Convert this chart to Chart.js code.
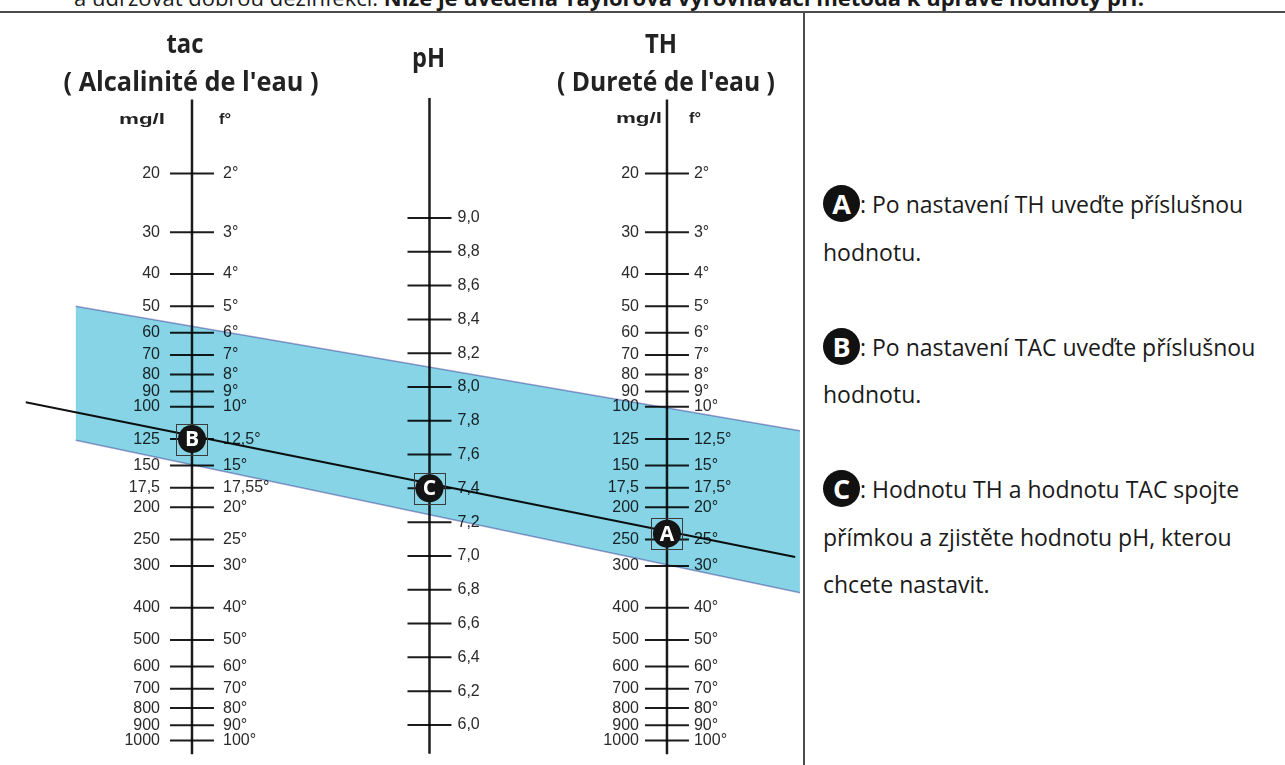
<!DOCTYPE html>
<html lang="cs">
<head>
<meta charset="utf-8">
<title>tac - pH - TH</title>
<script src="https://cdn.jsdelivr.net/npm/chart.js@4.4.1/dist/chart.umd.min.js"></script>
<style>
    html, body { margin: 0; padding: 0; background: #fff; }
    body { width: 1285px; height: 765px; position: relative; overflow: hidden; font-family: "Open Sans", sans-serif; color: #1a1a1a; }
    #topText { position: absolute; left: 74px; top: -13px; font-size: 22px; line-height: 20px; white-space: nowrap; }
    #topText b { font-weight: 700; }
    #topRule { position: absolute; left: 0; top: 11px; width: 1285px; height: 2px; background: #4d4d4d; }
    #divider { position: absolute; left: 803px; top: 12px; width: 2px; height: 753px; background: #4d4d4d; }
    #wrap { position: absolute; left: 0; top: 0; width: 804px; height: 765px; }
    #notes { position: absolute; left: 823px; top: 181px; font-size: 23px; line-height: 47.5px; white-space: nowrap; }
    #notes p { margin: 0 0 47.5px 0; }
    .mk { display: inline-block; width: 37px; height: 37px; border-radius: 50%; background: #111; color: #fff;
          font-weight: 700; font-size: 27px; line-height: 37px; text-align: center; vertical-align: middle; position: relative; top: -3px; }
</style>
</head>
<body>
<div id="topText">a udržovat dobrou dezinfekci. <b>Níže je uvedena Taylorova vyrovnávací metoda k úpravě hodnoty pH.</b></div>
<div id="wrap"><canvas id="nomogram" width="804" height="765"></canvas></div>
<div id="topRule"></div>
<div id="divider"></div>
<div id="notes">
    <p><span class="mk">A</span>: Po nastavení TH uveďte příslušnou<br>hodnotu.</p>
    <p><span class="mk">B</span>: Po nastavení TAC uveďte příslušnou<br>hodnotu.</p>
    <p><span class="mk">C</span>: Hodnotu TH a hodnotu TAC spojte<br>přímkou a zjistěte hodnotu pH, kterou<br>chcete nastavit.</p>
</div>
<script>
// tick values of the two mg/l scales (tac and TH use the same spacing)
const mgValues = [20, 30, 40, 50, 60, 70, 80, 90, 100, 125, 150, 175, 200, 250, 300, 400, 500, 600, 700, 800, 900, 1000];
const mgLabels = ['20', '30', '40', '50', '60', '70', '80', '90', '100', '125', '150', '17,5', '200', '250', '300', '400', '500', '600', '700', '800', '900', '1000'];
const tacDegLabels = ['2°', '3°', '4°', '5°', '6°', '7°', '8°', '9°', '10°', '12,5°', '15°', '17,55°', '20°', '25°', '30°', '40°', '50°', '60°', '70°', '80°', '90°', '100°'];
const thDegLabels = ['2°', '3°', '4°', '5°', '6°', '7°', '8°', '9°', '10°', '12,5°', '15°', '17,5°', '20°', '25°', '30°', '40°', '50°', '60°', '70°', '80°', '90°', '100°'];
const phValues = [9.0, 8.8, 8.6, 8.4, 8.2, 8.0, 7.8, 7.6, 7.4, 7.2, 7.0, 6.8, 6.6, 6.4, 6.2, 6.0];
const phLabels = ['9,0', '8,8', '8,6', '8,4', '8,2', '8,0', '7,8', '7,6', '7,4', '7,2', '7,0', '6,8', '6,6', '6,4', '6,2', '6,0'];

// the example reading: A on TH, B on tac, C = resulting pH
const markerLetters = ['A', 'B', 'C'];
const markerAxes = ['th', 'tac', 'ph'];
const markerValues = [240, 125, 7.4];

// blue band and reading line, points as [axis position, mg/l]
const bandTop = [[-0.49, 50], [2.56, 118]];
const bandBottom = [[-0.49, 126], [2.56, 361]];
const readLine = [[-0.70, 97], [2.54, 282]];
const mgAxisEnds = [12, 1100];
const phAxisEnds = [9.71, 5.83];

// where the three scales stand on the x axis
const axisPos = { tac: 0, ph: 1, th: 2 };

function pts(arr) {
    return arr.map(function(p) { return { x: p[0], y: p[1] }; });
}

function ticksAt(pos, values) {
    return values.map(function(v) { return { x: pos, y: v }; });
}

function fitText(ctx, text, cx, baseY, font, width) {
    ctx.save();
    ctx.font = font;
    ctx.textAlign = 'center';
    ctx.textBaseline = 'alphabetic';
    var w = ctx.measureText(text).width;
    ctx.translate(cx, baseY);
    ctx.scale(width / w, 1);
    ctx.fillText(text, 0, 0);
    ctx.restore();
}

var ink = '#1c1c1c';

var nomogramText = {
    id: 'nomogramText',
    beforeDatasetsDraw: function(chart) {
        var ctx = chart.ctx;
        var xs = chart.scales.x, yMg = chart.scales.yMg, yPh = chart.scales.yPh;
        var tacX = xs.getPixelForValue(axisPos.tac);
        var phX = xs.getPixelForValue(axisPos.ph);
        var thX = xs.getPixelForValue(axisPos.th);

        ctx.save();
        ctx.fillStyle = '#222';
        // titles
        fitText(ctx, 'tac', tacX - 7, 53, 'bold 26px "Open Sans"', 37);
        fitText(ctx, "( Alcalinité de l'eau )", tacX - 1, 91, 'bold 26px "Open Sans"', 255);
        fitText(ctx, 'pH', phX - 1, 67, 'bold 26px "Open Sans"', 33);
        fitText(ctx, 'TH', thX - 6, 53, 'bold 26px "Open Sans"', 32);
        fitText(ctx, "( Dureté de l'eau )", thX - 1, 91, 'bold 26px "Open Sans"', 218);
        // column headers
        fitText(ctx, 'mg/l', tacX - 50, 124, 'bold 14px "Liberation Sans"', 46);
        fitText(ctx, 'f°', tacX + 33, 124, 'bold 14px "Liberation Sans"', 12);
        fitText(ctx, 'mg/l', thX - 28, 123, 'bold 14px "Liberation Sans"', 46);
        fitText(ctx, 'f°', thX + 28, 123, 'bold 14px "Liberation Sans"', 12);

        // tick labels
        ctx.fillStyle = '#2a2a2a';
        ctx.font = '16px "Liberation Sans"';
        ctx.textBaseline = 'middle';
        mgValues.forEach(function(v, i) {
            var y = yMg.getPixelForValue(v);
            ctx.textAlign = 'right';
            ctx.fillText(mgLabels[i], tacX - 32, y);
            ctx.fillText(mgLabels[i], thX - 28, y);
            ctx.textAlign = 'left';
            ctx.fillText(tacDegLabels[i], tacX + 31, y);
            ctx.fillText(thDegLabels[i], thX + 27, y);
        });
        ctx.textAlign = 'left';
        phValues.forEach(function(v, i) {
            ctx.fillText(phLabels[i], phX + 28, yPh.getPixelForValue(v));
        });
        ctx.restore();

        // the band darkens whatever lies under it
        ctx.globalCompositeOperation = 'multiply';
    },
    afterDatasetsDraw: function(chart) {
        var ctx = chart.ctx;
        ctx.globalCompositeOperation = 'source-over';
        var xs = chart.scales.x;
        markerLetters.forEach(function(letter, i) {
            var axis = markerAxes[i];
            var scale = axis === 'ph' ? chart.scales.yPh : chart.scales.yMg;
            var x = xs.getPixelForValue(axisPos[axis]);
            var y = scale.getPixelForValue(markerValues[i]);
            ctx.save();
            ctx.strokeStyle = '#3a3a3a';
            ctx.lineWidth = 1;
            ctx.strokeRect(Math.round(x - 15.5) + 0.5, Math.round(y - 15.5) + 0.5, 31, 31);
            ctx.fillStyle = '#141414';
            ctx.beginPath();
            ctx.arc(x, y, 14, 0, Math.PI * 2);
            ctx.fill();
            ctx.fillStyle = '#fff';
            ctx.font = 'bold 21px "Open Sans"';
            ctx.textAlign = 'center';
            ctx.textBaseline = 'middle';
            ctx.fillText(letter, x, y + 1);
            ctx.restore();
        });
    }
};

var lineStyle = { type: 'line', yAxisID: 'yMg', borderColor: ink, borderWidth: 2, pointRadius: 0, tension: 0, fill: false };
var tickStyle = { type: 'scatter', yAxisID: 'yMg', pointStyle: 'line', pointRadius: 22, borderColor: ink, borderWidth: 2 };

var datasets = [
    Object.assign({}, lineStyle, { data: pts(readLine), borderColor: '#111' }),
    Object.assign({}, tickStyle, { data: ticksAt(axisPos.tac, mgValues) }),
    Object.assign({}, tickStyle, { data: ticksAt(axisPos.th, mgValues) }),
    Object.assign({}, tickStyle, { data: ticksAt(axisPos.ph, phValues), yAxisID: 'yPh' }),
    Object.assign({}, lineStyle, { data: ticksAt(axisPos.tac, mgAxisEnds), borderWidth: 2.5 }),
    Object.assign({}, lineStyle, { data: ticksAt(axisPos.th, mgAxisEnds), borderWidth: 2.5 }),
    Object.assign({}, lineStyle, { data: ticksAt(axisPos.ph, phAxisEnds), yAxisID: 'yPh', borderWidth: 2.5 }),
    Object.assign({}, lineStyle, { data: pts(bandTop), borderColor: '#a8a2d0', borderWidth: 1.5 }),
    Object.assign({}, lineStyle, { data: pts(bandBottom), borderColor: '#a8a2d0', borderWidth: 1.5, fill: '-1', backgroundColor: '#86d4e6' })
];

new Chart(document.getElementById('nomogram').getContext('2d'), {
    type: 'scatter',
    data: { datasets: datasets },
    options: {
        responsive: false,
        animation: false,
        events: [],
        layout: { padding: 0, autoPadding: false },
        plugins: { legend: { display: false }, tooltip: { enabled: false } },
        scales: {
            x: { type: 'linear', min: -0.8084, max: 2.577, display: false },
            yMg: { type: 'logarithmic', reverse: true, min: 6.04, max: 1184.6, display: false },
            yPh: { type: 'linear', min: 5.763, max: 10.29, display: false }
        }
    },
    plugins: [nomogramText]
});
</script>
</body>
</html>
